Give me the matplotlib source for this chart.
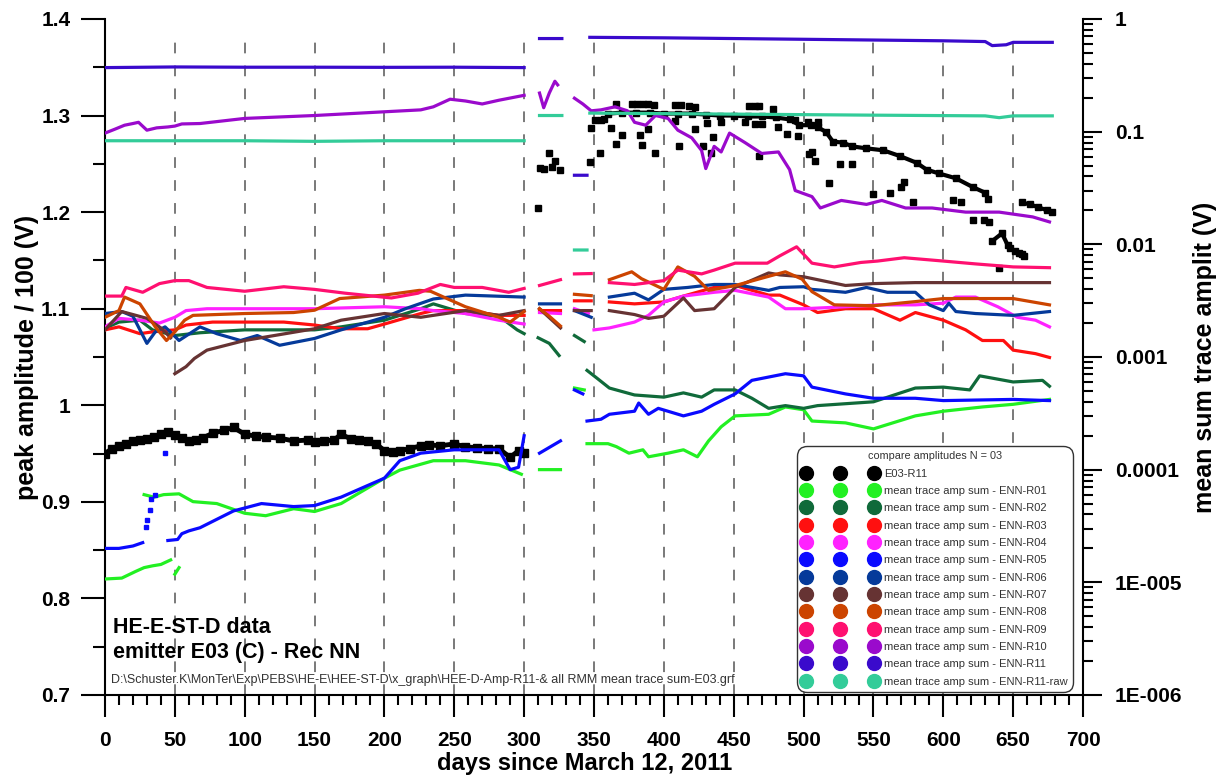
import numpy as np
import matplotlib
matplotlib.use('Agg')
import matplotlib.pyplot as plt
from matplotlib.lines import Line2D
from matplotlib.ticker import MultipleLocator, LogLocator, NullFormatter

plt.rcParams['font.family'] = ['Liberation Sans', 'DejaVu Sans']

# ---- data: (day, value) pairs, None = gap in the record ----
# E03-R11 peak amplitude / 100 (V), left axis
e03_band1 = [(0, 0.950), (5, 0.955), (10, 0.958), (15, 0.960), (20, 0.963), (25, 0.964), (30, 0.965),
             (35, 0.967), (40, 0.970), (45, 0.972), (50, 0.969), (55, 0.966), (60, 0.963), (65, 0.964),
             (70, 0.966), (77, 0.971), (85, 0.974), (92, 0.977), (100, 0.970), (108, 0.968), (115, 0.967),
             (125, 0.966), (135, 0.963), (145, 0.964), (150, 0.962), (157, 0.963), (164, 0.964), (169, 0.970),
             (176, 0.965), (182, 0.964), (188, 0.963), (194, 0.960), (200, 0.953), (206, 0.952), (211, 0.953),
             (218, 0.955), (226, 0.958), (232, 0.959), (240, 0.958), (250, 0.960), (258, 0.957), (266, 0.956),
             (274, 0.955), (282, 0.955), (290, 0.946), (296, 0.953), (300, 0.951)]
e03_band2 = [(360, 1.302), (370, 1.303), (380, 1.303), (390, 1.303), (400, 1.302), (410, 1.302), (420, 1.302),
             (430, 1.301), (440, 1.300), (450, 1.300), (460, 1.299), (470, 1.299), (480, 1.298), (490, 1.296),
             (497, 1.290), (505, 1.290), (510, 1.288), (516, 1.283), (521, 1.273), (528, 1.272), (535, 1.268),
             (545, 1.266), (557, 1.264), (569, 1.258), (581, 1.251), (588, 1.244), (597, 1.240), (609, 1.235),
             (621, 1.226), (630, 1.220), (632, 1.214), None,
             (635, 1.170), (642, 1.178), (646, 1.166), (648, 1.163), (651, 1.160), (654, 1.158), (656, 1.157),
             (658, 1.155), None,
             (656, 1.210), (662, 1.208), (668, 1.205), (674, 1.202), (678, 1.200)]
e03_scatter = [(310, 1.204), (311, 1.246), (314, 1.245), (318, 1.261), (320, 1.247), (322, 1.253), (326, 1.244),
               (347, 1.252), (354, 1.261), (348, 1.287), (351, 1.295), (355, 1.295), (357, 1.296),
               (362, 1.287), (366, 1.312), (366, 1.271), (370, 1.280), (377, 1.312), (381, 1.312), (385, 1.312),
               (389, 1.312), (393, 1.311), (383, 1.280), (384, 1.269), (389, 1.286), (394, 1.261), (408, 1.311),
               (412, 1.311), (418, 1.310), (422, 1.309), (408, 1.294), (411, 1.268), (422, 1.286), (428, 1.268),
               (431, 1.292), (435, 1.278), (434, 1.261), (441, 1.293), (458, 1.293), (461, 1.310), (465, 1.310),
               (468, 1.310), (465, 1.291), (470, 1.291), (468, 1.258), (478, 1.307), (482, 1.288), (488, 1.281),
               (494, 1.295), (496, 1.279), (503, 1.293), (506, 1.262), (508, 1.253), (510, 1.293), (504, 1.260),
               (518, 1.230), (526, 1.250), (535, 1.250), (550, 1.219), (562, 1.220), (570, 1.226), (572, 1.231),
               (578, 1.210), (607, 1.213), (613, 1.210), (621, 1.192), (629, 1.192), (633, 1.190), (640, 1.142)]

# mean trace amp sum (V), right log axis
r01 = [(0, 1.07e-5), (12, 1.09e-5), (22, 1.25e-5), (28, 1.35e-5), (34, 1.4e-5), (40, 1.44e-5), (47, 1.58e-5), None,
       (50, 1.18e-5), (53, 1.35e-5), None,
       (28, 6.0e-5), (35, 5.7e-5), (42, 6.0e-5), (53, 6.1e-5), (63, 5.2e-5), (80, 5.0e-5), (100, 4.1e-5),
       (115, 3.9e-5), (135, 4.5e-5), (150, 4.25e-5), (169, 5.0e-5), (200, 8.4e-5), (211, 9.9e-5), (235, 1.2e-4),
       (258, 1.2e-4), (282, 1.1e-4), (298, 9.1e-5), None,
       (311, 1.0e-4), (326, 1.0e-4), None, (336, 5.3e-4), (343, 5.1e-4), None,
       (345, 1.7e-4), (360, 1.7e-4), (366, 1.6e-4), (375, 1.4e-4), (385, 1.5e-4), (389, 1.3e-4), (403, 1.4e-4),
       (414, 1.5e-4), (424, 1.3e-4), (432, 1.8e-4), (441, 2.4e-4), (451, 3.0e-4), (475, 3.1e-4), (487, 3.6e-4),
       (500, 3.4e-4), (506, 2.7e-4), (530, 2.6e-4), (550, 2.3e-4), (580, 3.0e-4), (600, 3.3e-4), (628, 3.6e-4),
       (650, 3.8e-4), (676, 4.2e-4)]
r02 = [(0, 1.8e-3), (10, 2.04e-3), (25, 2.12e-3), (34, 1.74e-3), (50, 1.55e-3), (68, 1.64e-3), (100, 1.74e-3),
       (150, 1.74e-3), (169, 1.85e-3), (200, 2.12e-3), (226, 2.68e-3), (235, 2.96e-3), (258, 2.43e-3),
       (282, 2.3e-3), (295, 1.74e-3), (300, 1.61e-3), None,
       (310, 1.48e-3), (318, 1.32e-3), (325, 1.03e-3), None, (336, 1.55e-3), (343, 1.37e-3), None,
       (345, 7.6e-4), (352, 6.5e-4), (361, 5.3e-4), (379, 4.6e-4), (400, 4.4e-4), (414, 4.8e-4), (427, 4.4e-4),
       (436, 5.1e-4), (451, 5.1e-4), (463, 4.3e-4), (475, 3.5e-4), (487, 3.7e-4), (500, 3.5e-4), (510, 3.7e-4),
       (550, 4.0e-4), (580, 5.3e-4), (600, 5.4e-4), (619, 5.1e-4), (626, 6.8e-4), (650, 6.0e-4), (671, 6.2e-4),
       (676, 5.5e-4)]
r03 = [(0, 1.74e-3), (10, 1.85e-3), (25, 1.61e-3), (34, 1.67e-3), (50, 1.74e-3), (58, 1.92e-3), (77, 2.04e-3),
       (100, 2.04e-3), (128, 2.04e-3), (150, 1.92e-3), (169, 1.78e-3), (188, 1.78e-3), (200, 1.96e-3),
       (226, 2.43e-3), (235, 2.58e-3), (258, 2.58e-3), (282, 2.34e-3), (300, 2.34e-3), None,
       (311, 2.58e-3), (326, 2.58e-3), None, (336, 3.15e-3), (348, 3.15e-3), None,
       (361, 3.08e-3), (379, 2.96e-3), (400, 3.08e-3), (414, 3.47e-3), (436, 4.14e-3), (451, 4.31e-3),
       (475, 3.54e-3), (483, 3.54e-3), (500, 2.9e-3), (510, 2.48e-3), (530, 2.68e-3), (550, 2.68e-3),
       (569, 2.12e-3), (580, 2.48e-3), (600, 2.12e-3), (616, 1.74e-3), (628, 1.4e-3), (643, 1.4e-3),
       (650, 1.15e-3), (666, 1.07e-3), (676, 9.9e-4)]
r04 = [(0, 1.85e-3), (10, 2.2e-3), (25, 2.12e-3), (39, 2.0e-3), (50, 2.25e-3), (58, 2.58e-3), (73, 2.68e-3),
       (100, 2.68e-3), (150, 2.68e-3), (200, 2.79e-3), (226, 2.68e-3), (235, 2.58e-3), (258, 2.43e-3),
       (282, 2.12e-3), (300, 1.96e-3), None,
       (311, 2.48e-3), (326, 2.43e-3), None, (336, 2.68e-3), (346, 2.43e-3), None,
       (350, 1.74e-3), (361, 1.81e-3), (379, 2.04e-3), (389, 2.34e-3), (400, 3.08e-3), (414, 3.47e-3),
       (436, 3.75e-3), (451, 3.9e-3), (475, 3.4e-3), (487, 2.68e-3), (500, 2.68e-3), (530, 2.79e-3),
       (553, 2.9e-3), (580, 2.9e-3), (600, 3.0e-3), (609, 3.4e-3), (623, 3.4e-3), (639, 2.79e-3),
       (653, 2.25e-3), (666, 2.12e-3), (676, 1.85e-3)]
r05 = [(0, 2.0e-5), (10, 2.0e-5), (20, 2.1e-5), (27, 2.25e-5), None,
       (45, 2.35e-5), (52, 2.4e-5), (55, 2.7e-5), (60, 2.86e-5), (68, 3.05e-5), (92, 4.3e-5), (112, 5.0e-5),
       (135, 4.7e-5), (150, 4.8e-5), (169, 5.7e-5), (200, 8.4e-5), (211, 1.2e-4), (226, 1.4e-4), (250, 1.5e-4),
       (282, 1.5e-4), (290, 1.0e-4), (296, 1.05e-4), (300, 2.0e-4), None,
       (311, 1.4e-4), (326, 1.8e-4), None, (336, 5.1e-4), (342, 4.7e-4), None,
       (345, 2.7e-4), (355, 2.8e-4), (361, 3.1e-4), (379, 3.3e-4), (382, 3.9e-4), (389, 3.1e-4), (396, 3.5e-4),
       (414, 3.0e-4), (427, 3.3e-4), (436, 3.8e-4), (451, 4.7e-4), (463, 6.2e-4), (487, 7.1e-4), (500, 6.8e-4),
       (506, 5.4e-4), (530, 4.7e-4), (550, 4.3e-4), (580, 4.3e-4), (600, 4.1e-4), (650, 4.2e-4), (676, 4.1e-4)]
r05_dots = [(29, 3.1e-5), (30, 3.6e-5), (32, 4.4e-5), (33, 5.5e-5), (36, 5.9e-5), (43, 1.4e-4)]
r06 = [(0, 2.43e-3), (12, 2.53e-3), (20, 2.3e-3), (30, 1.32e-3), (36, 1.67e-3), (43, 1.85e-3), (53, 1.4e-3),
       (68, 1.85e-3), (80, 1.61e-3), (97, 1.4e-3), (109, 1.55e-3), (125, 1.27e-3), (150, 1.46e-3),
       (169, 1.74e-3), (200, 2.25e-3), (215, 2.68e-3), (235, 3.27e-3), (258, 3.54e-3), (300, 3.4e-3), None,
       (311, 2.96e-3), (326, 2.96e-3), None, (336, 2.58e-3), (348, 2.25e-3), None,
       (361, 3.4e-3), (379, 3.68e-3), (389, 3.21e-3), (400, 3.98e-3), (417, 4.14e-3), (436, 4.4e-3),
       (451, 4.4e-3), (475, 3.9e-3), (483, 4.14e-3), (500, 4.2e-3), (506, 3.98e-3), (530, 3.75e-3),
       (545, 4.14e-3), (560, 3.75e-3), (580, 3.75e-3), (590, 2.9e-3), (600, 2.58e-3), (604, 3.0e-3),
       (609, 2.53e-3), (623, 2.43e-3), (650, 2.34e-3), (676, 2.53e-3)]
r07 = [(0, 1.74e-3), (12, 2.53e-3), (20, 2.38e-3), (30, 2.2e-3), (40, 1.81e-3), (47, 1.48e-3), None,
       (50, 7.1e-4), (58, 8.2e-4), (64, 9.7e-4), (73, 1.15e-3), (100, 1.4e-3), (150, 1.78e-3), (169, 2.12e-3),
       (200, 2.43e-3), (226, 2.25e-3), (235, 2.34e-3), (258, 2.58e-3), (282, 2.34e-3), (300, 2.58e-3), None,
       (311, 2.68e-3), (326, 1.81e-3), None, (336, 2.58e-3), (348, 2.58e-3), None,
       (361, 2.58e-3), (379, 2.38e-3), (389, 2.2e-3), (400, 2.3e-3), (414, 3.34e-3), (422, 2.58e-3),
       (436, 2.68e-3), (451, 4.14e-3), (475, 5.57e-3), (483, 5.35e-3), (500, 5.15e-3), (530, 4.31e-3),
       (550, 4.48e-3), (580, 4.57e-3), (676, 4.57e-3)]
r08 = [(0, 2.25e-3), (10, 2.58e-3), (14, 3.4e-3), (25, 2.96e-3), (36, 1.85e-3), (44, 1.4e-3), (50, 1.67e-3),
       (57, 2.12e-3), (63, 2.34e-3), (100, 2.43e-3), (135, 2.48e-3), (150, 2.6e-3), (168, 3.3e-3),
       (200, 3.54e-3), (225, 3.9e-3), (233, 3.83e-3), (258, 2.79e-3), (282, 2.25e-3), (290, 2.04e-3),
       (300, 2.53e-3), None,
       (311, 2.68e-3), (318, 2.3e-3), (326, 1.88e-3), None, (336, 3.6e-3), (348, 3.5e-3), None,
       (361, 4.85e-3), (377, 5.7e-3), (384, 4.95e-3), (400, 3.98e-3), (410, 6.3e-3), (422, 5.2e-3),
       (432, 3.9e-3), (451, 4.3e-3), (475, 5.2e-3), (487, 5.7e-3), (499, 4.9e-3), (506, 3.8e-3), (522, 2.9e-3),
       (550, 2.85e-3), (580, 3.1e-3), (600, 3.3e-3), (623, 3.3e-3), (650, 3.3e-3), (676, 2.9e-3)]
r09 = [(0, 3.47e-3), (12, 3.47e-3), (15, 4.14e-3), (27, 3.75e-3), (39, 4.48e-3), (50, 4.76e-3), (60, 4.76e-3),
       (73, 4.14e-3), (100, 3.83e-3), (128, 4.2e-3), (150, 3.98e-3), (172, 3.68e-3), (205, 3.34e-3),
       (224, 3.68e-3), (240, 4.4e-3), (250, 4.14e-3), (270, 4.14e-3), (289, 3.75e-3), (300, 4.06e-3), None,
       (311, 4.31e-3), (326, 4.85e-3), None, (336, 5.46e-3), (348, 5.5e-3), None,
       (361, 4.57e-3), (379, 4.4e-3), (400, 4.76e-3), (410, 5.9e-3), (427, 5.46e-3), (436, 5.9e-3),
       (451, 6.8e-3), (474, 6.8e-3), (483, 7.9e-3), (495, 9.5e-3), (506, 6.8e-3), (522, 6.3e-3), (541, 6.9e-3),
       (553, 7.1e-3), (572, 7.6e-3), (600, 7.1e-3), (623, 6.7e-3), (650, 6.3e-3), (676, 6.2e-3)]
r10 = [(0, 0.097), (7, 0.105), (14, 0.114), (20, 0.118), (24, 0.121), (30, 0.103), (37, 0.108), (45, 0.110),
       (50, 0.112), (55, 0.117), (68, 0.118), (100, 0.131), (150, 0.139), (200, 0.150), (226, 0.156),
       (235, 0.166), (247, 0.194), (258, 0.187), (270, 0.176), (282, 0.190), (300, 0.210), None,
       (311, 0.220), (314, 0.163), (318, 0.220), (322, 0.280), (324, 0.260), None,
       (336, 0.198), (342, 0.176), (348, 0.153), (355, 0.156), (365, 0.166), (374, 0.153), (379, 0.121),
       (387, 0.114), (394, 0.139), (403, 0.131), (410, 0.103), (420, 0.088), (427, 0.068), (430, 0.047),
       (436, 0.074), (441, 0.066), (447, 0.097), (458, 0.080), (470, 0.064), (482, 0.066), (490, 0.046),
       (494, 0.030), (506, 0.0265), (512, 0.021), (527, 0.0245), (545, 0.0226), (556, 0.0245), (573, 0.021),
       (592, 0.021), (616, 0.0193), (640, 0.0193), (664, 0.0175), (676, 0.0158)]
r11 = [(0, 0.370), (50, 0.375), (100, 0.373), (150, 0.373), (200, 0.372), (250, 0.373), (300, 0.370), None,
       (311, 0.67), (327, 0.67), None, (336, 0.041), (345, 0.041), None,
       (347, 0.687), (400, 0.68), (450, 0.67), (500, 0.66), (550, 0.65), (600, 0.64), (630, 0.63),
       (635, 0.58), (645, 0.59), (650, 0.62), (678, 0.62)]
r11_raw = [(0, 0.083), (100, 0.083), (150, 0.082), (200, 0.083), (300, 0.083), None,
           (311, 0.139), (327, 0.139), None, (336, 0.0089), (345, 0.0089), None,
           (347, 0.146), (450, 0.143), (550, 0.140), (630, 0.138), (640, 0.133), (650, 0.138), (678, 0.138)]

series_names = ['R01', 'R02', 'R03', 'R04', 'R05', 'R06', 'R07', 'R08', 'R09', 'R10', 'R11', 'R11-raw']
series_data = [r01, r02, r03, r04, r05, r06, r07, r08, r09, r10, r11, r11_raw]
series_colors = ['#22f022', '#106a3a', '#ff1010', '#ff22ff', '#0a0aff', '#053a9a',
                 '#663333', '#cc4400', '#ff1070', '#9a0acc', '#3a0acc', '#33cc99']

left_ticks = [0.7, 0.8, 0.9, 1.0, 1.1, 1.2, 1.3, 1.4]
left_labels = ['0.7', '0.8', '0.9', '1', '1.1', '1.2', '1.3', '1.4']
right_ticks = [1e-6, 1e-5, 1e-4, 1e-3, 1e-2, 1e-1, 1]
right_labels = ['1E-006', '1E-005', '0.0001', '0.001', '0.01', '0.1', '1']
day_ticks = list(range(0, 701, 50))


def split(pairs):
    xs, ys = [], []
    for p in pairs:
        if p is None:
            xs.append(np.nan)
            ys.append(np.nan)
        else:
            xs.append(p[0])
            ys.append(p[1])
    return np.array(xs, float), np.array(ys, float)


fig = plt.figure(figsize=(12.25, 7.8), dpi=100)
ax = fig.add_axes([0.0857, 0.109, 0.7984, 0.8667])
ax2 = ax.twinx()

# dashed day markers
for d in range(50, 700, 50):
    ax.axvline(d, ymax=0.982, color='#555555', lw=1.1, ls=(0, (7, 8)), zorder=0)

# black peak amplitude
x, y = split(e03_band1)
ax.plot(x, y, color='black', lw=3.5, marker='s', ms=5.5, zorder=3)
x, y = split(e03_band2)
ax.plot(x, y, color='black', lw=3, marker='s', ms=5, zorder=3)
x, y = split(e03_scatter)
ax.plot(x, y, color='black', ls='none', marker='s', ms=5, zorder=3)

# coloured mean trace amp sums on the log axis
for data, c in zip(series_data, series_colors):
    x, y = split(data)
    ax2.plot(x, y, color=c, lw=2.3)
x, y = split(r05_dots)
ax2.plot(x, y, color=series_colors[4], ls='none', marker='s', ms=2.5)

ax.set_xlim(0, 700)
ax.set_ylim(0.7, 1.4)
ax2.set_yscale('log')
ax2.set_ylim(1e-6, 1)

for a in (ax, ax2):
    a.spines['top'].set_visible(False)
ax.spines['right'].set_visible(False)
ax2.spines['left'].set_visible(False)
ax2.spines['bottom'].set_visible(False)
for s in ('left', 'bottom'):
    ax.spines[s].set_linewidth(1.5)
ax2.spines['right'].set_linewidth(1.5)

ax.set_xticks(day_ticks, labels=[str(d) for d in day_ticks], fontsize=15, fontweight='bold')
ax.xaxis.set_minor_locator(MultipleLocator(10))
ax.set_yticks(left_ticks, labels=left_labels, fontsize=15, fontweight='bold')
ax.yaxis.set_minor_locator(MultipleLocator(0.05))
ax.tick_params(axis='x', which='major', direction='out', length=16, width=1.5, pad=10)
ax.tick_params(axis='x', which='minor', direction='out', length=7.5, width=1.5)
ax.tick_params(axis='y', which='major', direction='out', length=17, width=1.5, pad=8)
ax.tick_params(axis='y', which='minor', direction='out', length=8.5, width=1.5)

ax2.set_yticks(right_ticks, labels=right_labels, fontsize=15, fontweight='bold')
ax2.yaxis.set_minor_locator(LogLocator(base=10, subs=np.arange(2, 10), numticks=20))
ax2.yaxis.set_minor_formatter(NullFormatter())
ax2.tick_params(axis='y', which='major', direction='out', length=14, width=1.5, pad=9)
ax2.tick_params(axis='y', which='minor', direction='out', length=7, width=1.5)

ax.set_xlabel('days since March 12, 2011', fontsize=17, fontweight='bold')
ax.xaxis.set_label_coords(0.49, -0.084)
ax.set_ylabel('peak amplitude / 100 (V)', fontsize=18, fontweight='bold', va='center')
ax.yaxis.set_label_coords(-0.08, 0.5)
ax2.set_ylabel('mean sum trace amplit (V)', fontsize=18, fontweight='bold', va='center', rotation=90)
ax2.yaxis.set_label_coords(1.125, 0.5)

ax.text(5.5, 0.7637, 'HE-E-ST-D data', fontsize=15.5, fontweight='bold', va='baseline')
ax.text(5.5, 0.7378, 'emitter E03 (C) - Rec NN', fontsize=15.5, fontweight='bold', va='baseline')
ax.text(4, 0.7119, r'D:\Schuster.K\MonTer\Exp\PEBS\HE-E\HEE-ST-D\x_graph\HEE-D-Amp-R11-& all RMM mean trace sum-E03.grf',
        fontsize=9, color='#333333', va='baseline')

# legend with three dots per entry
handles = [Line2D([], [], ls='none', marker='o', ms=10, color='black')]
labels = ['E03-R11']
for name, c in zip(series_names, series_colors):
    handles.append(Line2D([], [], ls='none', marker='o', ms=10, color=c))
    labels.append('mean trace amp sum - ENN-' + name)
leg = ax2.legend(handles, labels, loc='lower right', bbox_to_anchor=(0.990, 0.004), borderaxespad=0,
                 numpoints=3, handlelength=6.7, handletextpad=0.6, labelspacing=0.66, fontsize=8,
                 title='compare amplitudes N = 03', title_fontsize=7.8, frameon=True, fancybox=True,
                 framealpha=1, borderpad=0.5, labelcolor='#333333')
leg.get_frame().set_edgecolor('#333333')
leg.get_frame().set_linewidth(1.0)
leg.get_frame().set_boxstyle('round', pad=0, rounding_size=0.9)
leg.get_title().set_color('#333333')

fig.savefig('out.png', dpi=100)
